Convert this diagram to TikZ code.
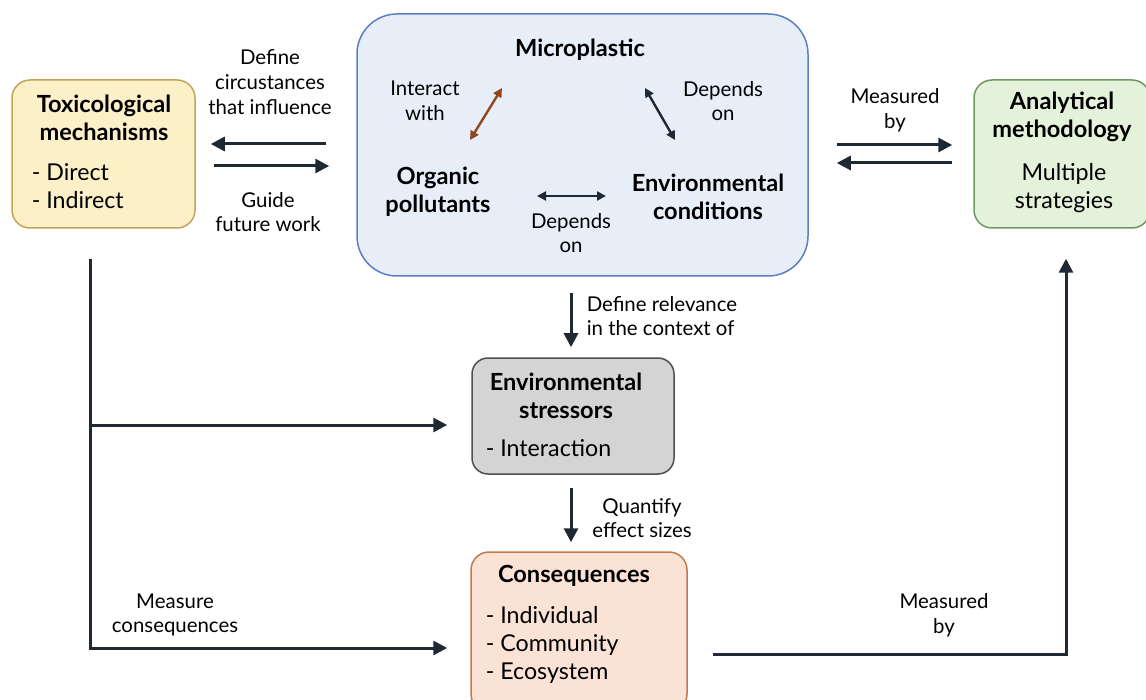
\documentclass[tikz,border=0pt]{standalone}
\usepackage{fontspec}
\setmainfont{Lato}
\usetikzlibrary{arrows.meta, positioning}
\definecolor{cink}{HTML}{1F2933}
\definecolor{cbrown}{HTML}{93461C}
\definecolor{toxline}{HTML}{C4A35A}
\definecolor{toxfill}{HTML}{FCF0C9}
\definecolor{mpline}{HTML}{5B7EC4}
\definecolor{mpfill}{HTML}{E8EEF8}
\definecolor{anline}{HTML}{6E9961}
\definecolor{anfill}{HTML}{E4F1DB}
\definecolor{stline}{HTML}{505050}
\definecolor{stfill}{HTML}{D4D4D4}
\definecolor{cqline}{HTML}{C2794E}
\definecolor{cqfill}{HTML}{FAE3D5}
\tikzset{
  every picture/.style={line width=0.75pt},
  box/.style={draw=#1line, fill=#1fill, rounded corners=9pt, line width=0.75pt},
  head/.style={font=\fontsize{11.8}{14}\selectfont\bfseries, align=center, inner sep=0pt},
  body/.style={font=\fontsize{11.6}{14}\selectfont, align=left, inner sep=0pt},
  note/.style={font=\fontsize{10.2}{12.3}\selectfont, align=center, inner sep=0pt},
  arrow/.style={-{Triangle[length=7pt, width=7pt]}, draw=cink, line width=1.5pt},
  dbl/.style={{Triangle[length=4.5pt, width=4.5pt]}-{Triangle[length=4.5pt, width=4.5pt]}, draw=cink, line width=1.2pt},
}
\begin{document}
\begin{tikzpicture}[x=0.5pt, y=-0.5pt]
  \useasboundingbox (0,0) rectangle (1146,700);
  % boxes
  \node[box=tox, minimum width=91.5pt, minimum height=74pt] (tox) at (103.5,154) {};
  \node[box=mp, rounded corners=20pt, minimum width=225.5pt, minimum height=131pt] (mp) at (582.5,145) {};
  \node[box=an, minimum width=88pt, minimum height=74pt] (an) at (1062,154) {};
  \node[box=st, rounded corners=8pt, minimum width=101pt, minimum height=58pt] (st) at (573,416) {};
  \node[box=cq, minimum width=108pt, minimum height=80pt] (cq) at (579,632) {};
  % box texts
  \node[head] (toxT) at (104,118) {Toxicological\\mechanisms};
  \node[body, anchor=west] (toxL) at (31,186) {- Direct\\- Indirect};
  \node[head] (mpT) at (580,50) {Microplastic};
  \node[head] (org) at (438,192) {Organic\\pollutants};
  \node[head] (ec) at (708,197) {Environmental\\conditions};
  \node[head] (anT) at (1062,117) {Analytical\\methodology};
  \node[body, align=center] (anL) at (1064,188) {Multiple\\strategies};
  \node[head] (stT) at (566,396) {Environmental\\stressors};
  \node[body, anchor=west] (stL) at (485,448) {- Interaction};
  \node[head] (cqT) at (574,576) {Consequences};
  \node[body, anchor=west] (cqL) at (485,645) {- Individual\\- Community\\- Ecosystem};
  % labels
  \node[note] (lDef) at (270,82) {Define\\circustances\\that influence};
  \node[note] (lGuide) at (268,212) {Guide\\future work};
  \node[note] (lInt) at (425,101) {Interact\\with};
  \node[note] (lDep1) at (723,101) {Depends\\on};
  \node[note] (lDep2) at (571,233) {Depends\\on};
  \node[note] (lMeas1) at (895,110) {Measured\\by};
  \node[note, align=left, anchor=west] (lRel) at (586,316) {Define relevance\\in the context of};
  \node[note] (lQua) at (642,518) {Quantify\\effect sizes};
  \node[note] (lCons) at (175,615) {Measure\\consequences};
  \node[note] (lMeas2) at (944,615) {Measured\\by};
  % inner links
  \draw[dbl, draw=cbrown] ([shift={(32,-52)}]org.center) -- ([shift={(-78,38)}]mpT.center);
  \draw[dbl] ([shift={(65,38)}]mpT.center) -- ([shift={(-33,-57)}]ec.center);
  \draw[dbl] ([shift={(99,4)}]org.center) -- ([shift={(-102,-1)}]ec.center);
  % links between boxes
  \draw[arrow] ([shift={(-30,-1)}]mp.west) -- ([shift={(15,-10)}]tox.east);
  \draw[arrow] ([shift={(18,12)}]tox.east) -- ([shift={(-27,21)}]mp.west);
  \draw[arrow] ([shift={(28,0)}]mp.east) -- ([shift={(-21,-9)}]an.west);
  \draw[arrow] ([shift={(-21,9)}]an.west) -- ([shift={(28,18)}]mp.east);
  \draw[arrow] ([shift={(-11.5,16)}]mp.south) -- ([shift={(-2,-10)}]st.north);
  \draw[arrow] ([shift={(-2,13)}]st.south) -- ([shift={(-8,-9)}]cq.north);
  \coordinate (tl) at ([shift={(-13.5,30)}]tox.south);
  \coordinate (stin) at ([shift={(-24,9)}]st.west);
  \coordinate (cqin) at ([shift={(-23,16)}]cq.west);
  \coordinate (cqout) at ([shift={(25,22)}]cq.east);
  \coordinate (anin) at ([shift={(4,30)}]an.south);
  \draw[arrow] (tl) |- (cqin);
  \draw[arrow] (tl |- stin) -- (stin);
  \draw[arrow] (cqout) -| (anin);
\end{tikzpicture}
\end{document}
